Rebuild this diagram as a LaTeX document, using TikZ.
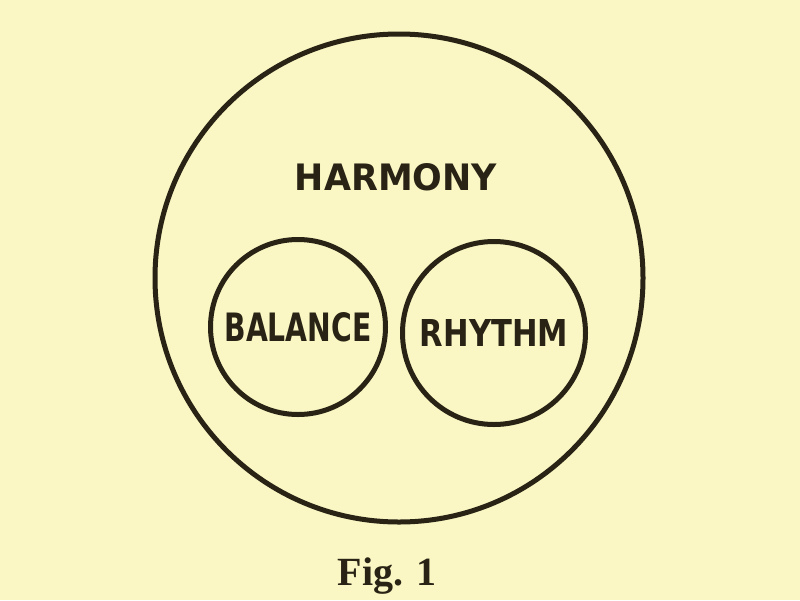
\documentclass[tikz,border=0pt]{standalone}
\usepackage{fontspec}
\usepackage{graphicx}
\newfontfamily\letfont{DejaVu Sans}
\newfontfamily\capfont{Liberation Serif}
\definecolor{paper}{RGB}{250,247,196}
\definecolor{ink}{RGB}{40,35,20}
\begin{document}
\begin{tikzpicture}[x=1pt,y=-1pt,
  ring/.style={draw=ink,line width=5pt,circle,inner sep=0pt,text=ink,font=\letfont\bfseries},
  word/.style={text=ink,inner sep=0pt,font=\letfont\bfseries}]
\fill[paper] (0,0) rectangle (800,600);
\useasboundingbox (0,0) rectangle (800,600);
\node[ring,minimum size=488pt] (harmonyring) at (399,278) {};
\node[word] (harmony) at (396,177) {\resizebox{202pt}{27pt}{HARMONY}};
\node[ring,minimum size=175pt] (balance) at (298,327) {\resizebox{147pt}{29pt}{BALANCE}};
\node[ring,minimum size=183pt] (rhythm) at (494,333) {\resizebox{148pt}{27pt}{RHYTHM}};
\node[text=ink,inner sep=0pt,font=\capfont\bfseries\fontsize{40}{46}\selectfont,anchor=base] (fig) at (387,585) {Fig. 1};
\end{tikzpicture}
\end{document}
